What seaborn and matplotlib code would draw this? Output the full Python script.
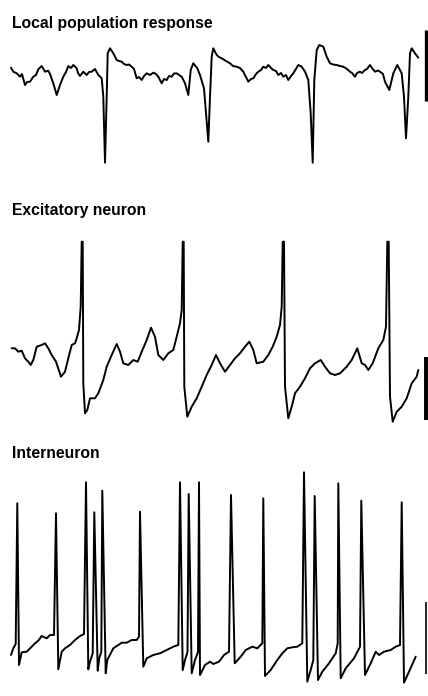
import pandas as pd
import seaborn as sns
import matplotlib
matplotlib.use("Agg")
import matplotlib.pyplot as plt

# Traces: time in arbitrary units, amplitude relative to each trace's baseline
lfp_t = [11, 13.3, 16.7, 20, 22, 25, 27, 30, 33.3, 36, 38.3, 41.7, 45, 48.3, 50, 53.3, 56.7, 60,
         63.3, 66, 68.3, 71, 73.3, 76.7, 78, 80, 83.3, 86.7, 89, 91.7, 95, 98.3, 101.7, 103.3, 105,
         106.7, 107.7, 110, 113.3, 116.7, 119, 121.7, 124, 126.7, 129, 131.7, 134, 136.7, 139,
         141.7, 144, 146.7, 150, 153.3, 156, 158.3, 161.7, 164, 166.7, 169, 171.7, 174, 176.7, 179,
         181.7, 185, 188.3, 190.7, 193.3, 197.3, 200, 204, 206, 208.3, 210, 211.7, 213.3, 216.7,
         219, 221.7, 226, 230, 233, 236.7, 240, 243.3, 248.3, 251, 253.3, 256, 258.3, 261, 263.3,
         266, 268.3, 271, 273.3, 276, 278.3, 281, 283.3, 286, 288.3, 291, 293.3, 298.3, 301.7, 305,
         308.3, 310.7, 312.7, 314.3, 316.7, 319.3, 323.3, 326.7, 330, 333, 336.7, 340, 343.3, 347,
         350, 352, 355, 357, 360, 362, 365, 367, 370, 372, 375, 378, 380, 383, 385, 389.3, 393.3,
         397.3, 401.7, 404, 406, 408.3, 410, 411.7, 415, 418.3]
lfp_v = [2.3, -1.7, -3.3, -6.7, -4, -15, -12, -11.7, -6.7, -5, 0.7, 4, -1.7, -0.7, -4, -13.3,
         -25, -15, -6.7, -2, 4, 2, 5, 1.7, -3, -6, -1.7, -5, -2, -1.7, 1, -5, -8.3, -26.7, -92.7,
         -26.7, 16.7, 21.7, 16.7, 10, 9, 8.3, 6, 5, 5.5, 3.3, 1, -8.3, -7, -10, -6, -3.3, -5, -2.7,
         -4, -6.7, -13.3, -9, -10, -6, -6.7, -3.5, -3.3, -5, -6.7, -13.3, -25, 0, 6.7, 1.7, -5,
         -18.3, -43.3, -71.7, -26.7, 13.3, 21.7, 15, 13, 11.7, 9, 6.7, 4, 3.3, 2, -1.7, -11.7, -9,
         -8.3, -4, -1.7, 0, 3.3, 2, 5, 2, 0, -1, -5, -3, -6.7, -5, -10, -6, -3.3, 5, 3.3, -1.7,
         -10, -43.3, -92.7, -10, 20, 25, 23.3, 13.3, 6.7, 5.5, 5, 4, 3.3, 1, -1.7, -3, -6.7, -3,
         -1.7, -3, 0, 1, 5, 2, -1.7, -0.5, -1.7, -4, -11.7, -20, -3.3, 5, -3.3, -26.7,
         -68.3, -26.7, 16.7, 21.7, 16.7, 12.3]

exc_t = [11.7, 15, 18.3, 21.7, 25, 28.3, 30.7, 33.3, 36.7, 41.7, 45, 48.3, 51.7, 56, 61, 65,
         68.3, 71.7, 75, 76.7, 79, 80.7, 81.7, 82.7, 83.3, 85, 87.3, 90, 95, 98.3, 103.3, 106.7,
         111.7, 116.7, 120, 123.3, 128.3, 133.3, 137.7, 141.7, 146.7, 151, 155, 158.3, 163.3,
         168.3, 173.3, 176.7, 180, 181.7, 182.7, 183.7, 184.3, 187.3, 191.7, 196.7, 201.7, 206.7,
         211.7, 216, 220, 225, 230, 235, 240, 245, 249.3, 253.3, 256.7, 263.3, 268.3, 272.7,
         276.7, 280, 281.7, 282.7, 284, 285, 288.3, 291.7, 295, 300, 305, 310, 315, 320.7, 325,
         330, 335, 340, 346.7, 351.7, 357.3, 361.7, 365, 368.3, 372.7, 378.3, 383.3, 386, 387.3,
         388.7, 390, 392.7, 396.7, 401.7, 406.7, 411.7, 416.7, 418.3]
exc_v = [1.7, 1.7, -1.7, -0.7, -8.3, -11.7, -15, -10, 3.3, 5, 6.7, 1.7, -5, -11.7, -26.7, -21.7,
         -8.3, 5, 6.7, 11.7, 20, 43.3, 108.3, 108.3, -33.3, -63.3, -60, -48.3, -48.3, -43.3, -30,
         -16.7, -5, 6, -1.7, -13.3, -15, -10, -11.7, -1.7, 10, 22.3, 13.3, -5, -10,
         -3.3, 0, 13.3, 26.7, 40, 108.3, 108.3, -36.7, -66.7, -56.7, -48.3, -36.7, -25,
         -15, -5, -13.3, -21.7, -15, -8.3, -3.3, 3.3, 8.3, 0, -13.3, -11.7, -5, 3.3,
         13.3, 25, 43.3, 108.3, 108.3, -36.7, -68.3, -56.7, -43.3, -36.7, -28.3, -18.3, -13.3,
         -10, -16.7, -23.3, -25, -23.3, -16.7, -10, 1.7, -13.3, -15, -20, -13.3, 1.7, 10,
         23.3, 108.3, 108.3, -46.7, -71.7, -61.7, -56.7, -48.3, -33.3, -26.7, -20]

int_t = [11, 13.3, 15.7, 17.3, 19, 21.7, 26.7, 31.7, 35, 38.3, 41.7, 46.7, 50, 54, 56, 58.3,
         61.7, 65, 70, 75, 80, 84, 86, 88.3, 90, 92.7, 94.3, 97.7, 99.3, 101.3, 102.3, 105.7,
         107.3, 113.3, 118.3, 121.7, 126.7, 131.7, 136.7, 139, 140, 143.3, 146.7, 153.3, 160,
         166.7, 173.3, 178.3, 180, 182.7, 185, 187.5, 188.7, 191.7, 195, 198, 199, 200, 205, 210,
         213.3, 219, 224, 229, 231, 234.7, 240.7, 245.7, 252.3, 257.3, 262.3, 263.3, 265, 270.7,
         277.3, 282.3, 287.3, 292.3, 297.3, 302.3, 304, 307.3, 310.7, 313.3, 314.7, 318, 322.3,
         329, 335.7, 337.7, 338.3, 340.7, 345.7, 354, 360, 361.3, 365, 370.7, 375.7, 379, 384,
         390.7, 395.7, 400, 401.7, 404, 409, 415.7]
int_v = [-5, 1.7, 6, 146.7, -15, -2.3, -1.7, 3.3, 6.7, 9.3, 14, 11.7, 15, 15, 136.7, -19.3,
         -1.7, 1.7, 5, 10, 14, 16, 167.7, -19.3, -11.7, -3.3, 137.7, -20.7, -8, -2, 159.3, -23.3,
         -10, 1.7, 5, 7.3, 7.3, 10, 10, 13.3, 138.3, -16.7, -8.3, -5, -3.3,
         0, 3.3, 5, 167.7, -20, -10, -2, 156, -23.3, -10, -2, 167.7, -25, -15, -11.7,
         -14, -11.7, -5, -1.7, 155, -13.3, -6.7, 0, 3.3, 1.7, 6.7, 151.7, -26, -20,
         -10, -3.3, 1.7, 2.7, 3.3, 6.7, 177.7, -31.7, -20, -10, 154, -30, -21.7,
         -13.3, -3.3, 6.7, 166.7, -28.3, -18.3, -8.3, 3.3, 149.3, -25, -13.3, -1.7, -5, -1.7,
         0, 3.3, 5, 147.7, -32.7, -21.7, -6.7]

titles = ["Local population response", "Excitatory neuron", "Interneuron"]

# layout in pixels: (axes top, axes bottom, baseline row, title baseline)
W, H = 428, 696
panels = [(22, 175, 70, 28), (225, 435, 350, 215), (462, 694, 650, 458)]
# scale bars: (top, bottom) in amplitude units and width in points
bars = [(40, -31, 2.4), (-7, -70, 2.8), (48, -24, 1.2)]
traces = [(lfp_t, lfp_v), (exc_t, exc_v), (int_t, int_v)]

sns.set_theme(style="white")
plt.rcParams['font.family'] = ['Liberation Sans', 'DejaVu Sans']

fig = plt.figure(figsize=(W / 100, H / 100), dpi=100)

for (top, bot, base, ty), (t, v), bar, title in zip(panels, traces, bars, titles):
    ax = fig.add_axes([0, 1 - bot / H, 1, (bot - top) / H])
    df = pd.DataFrame({'t': t, 'v': v})
    sns.lineplot(data=df, x='t', y='v', estimator=None, sort=False, ax=ax,
                 color='black', linewidth=1.4)
    ax.plot([426.5, 426.5], [bar[0], bar[1]], color='black', linewidth=bar[2],
            solid_capstyle='butt', clip_on=False)
    ax.set_xlim(0, W)
    ax.set_ylim(base - bot, base - top)
    ax.axis('off')
    fig.text(12 / W, 1 - ty / H, title, fontsize=11.3, fontweight='bold', color='black',
             va='baseline', ha='left')

fig.savefig('out.png', dpi=100)
